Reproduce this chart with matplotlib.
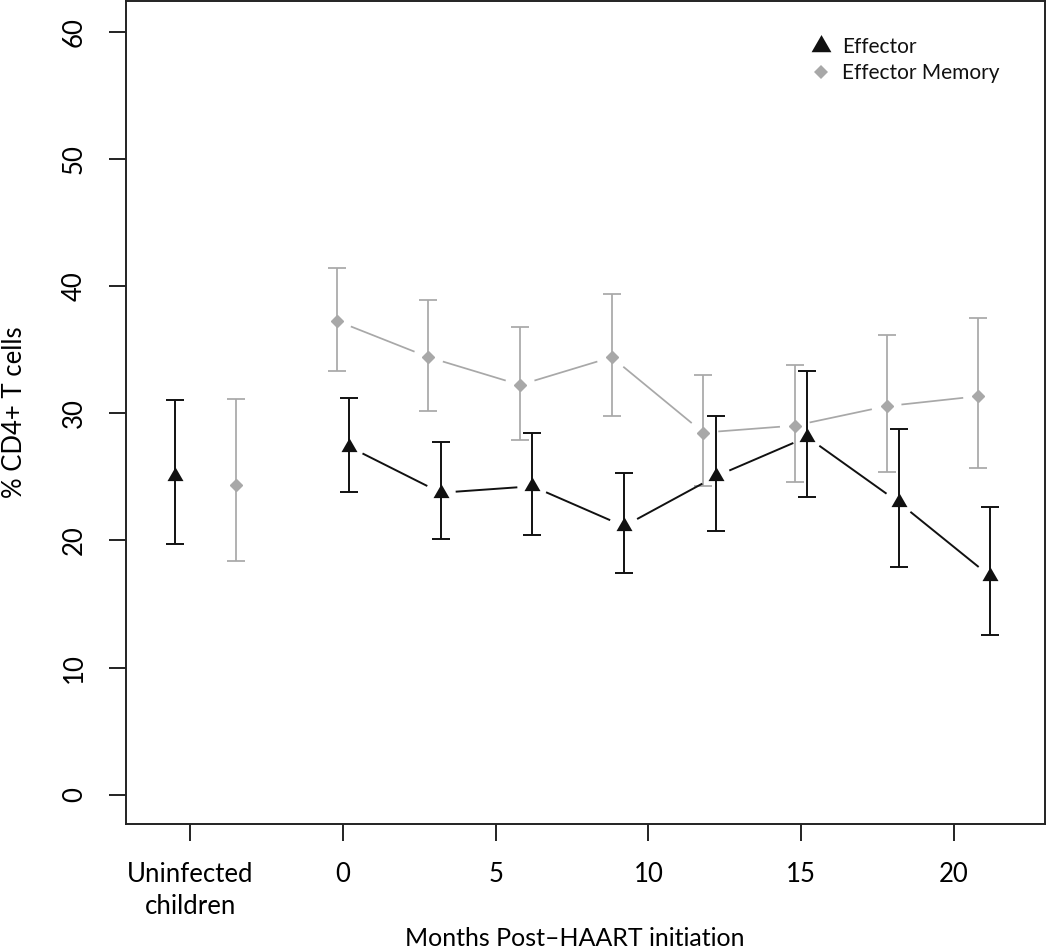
import numpy as np
import matplotlib
matplotlib.use("Agg")
import matplotlib.pyplot as plt
from matplotlib.path import Path

plt.rcParams['font.family'] = ['Lato', 'DejaVu Sans']

# ---- data ----
# x positions (months post-HAART; uninfected group placed at -5.5 / -3.5)
eff_x = [-5.5, 0.2, 3.2, 6.2, 9.2, 12.2, 15.2, 18.2, 21.2]
mem_x = [-3.5, -0.2, 2.8, 5.8, 8.8, 11.8, 14.8, 17.8, 20.8]
eff_mean = [25.05, 27.37, 23.75, 24.26, 21.12, 25.03, 28.13, 22.99, 17.17]
eff_lo = [19.73, 23.84, 20.13, 20.42, 17.40, 20.78, 23.40, 17.90, 12.56]
eff_hi = [31.05, 31.23, 27.75, 28.48, 25.29, 29.80, 33.36, 28.77, 22.62]
mem_mean = [24.35, 37.26, 34.41, 32.23, 34.41, 28.48, 29.03, 30.56, 31.34]
mem_lo = [18.42, 33.33, 30.16, 27.91, 29.77, 24.29, 24.58, 25.39, 25.68]
mem_hi = [31.16, 41.43, 38.89, 36.79, 39.41, 33.02, 33.83, 36.16, 37.50]

xtick_pos = [-5, 0, 5, 10, 15, 20]
xtick_labels = ["Uninfected\nchildren", "0", "5", "10", "15", "20"]
ytick_pos = [0, 10, 20, 30, 40, 50, 60]
series_names = ["Effector", "Effector Memory"]
x_title = "Months Post\u2013HAART initiation"
y_title = "% CD4+ T cells"

EFF_C = "#111111"
MEM_C = "#a8a8a8"

W, H = 1050, 951
fig = plt.figure(figsize=(W / 100, H / 100), dpi=100)
ax = fig.add_axes([125.7 / W, 1 - 824 / H, (1045 - 125.7) / W, (824 - 1) / H])
ax.set_xlim(-7.116, 22.99)
ax.set_ylim(-2.3, 62.42)

tri = Path([(-1.0, -0.577), (1.0, -0.577), (0.0, 1.155), (-1.0, -0.577)],
           [Path.MOVETO, Path.LINETO, Path.LINETO, Path.CLOSEPOLY])


def gapped_line(xs, ys, color, lw, gap_px=15):
    pts = ax.transData.transform(np.column_stack([xs, ys]))
    inv = ax.transData.inverted()
    for p, q in zip(pts[:-1], pts[1:]):
        d = q - p
        L = np.hypot(*d)
        if L <= 2 * gap_px:
            continue
        u = d / L
        a = inv.transform(p + u * gap_px)
        b = inv.transform(q - u * gap_px)
        ax.plot([a[0], b[0]], [a[1], b[1]], color=color, lw=lw,
                solid_capstyle='butt', zorder=2)


def errbars(xs, lo, hi, color, lw):
    ax.errorbar(xs, [(l + h) / 2 for l, h in zip(lo, hi)],
                yerr=[[(h - l) / 2 for l, h in zip(lo, hi)],
                      [(h - l) / 2 for l, h in zip(lo, hi)]],
                fmt='none', ecolor=color, elinewidth=lw, capsize=6.3,
                capthick=lw, zorder=2)


errbars(mem_x, mem_lo, mem_hi, MEM_C, 1.25)
errbars(eff_x, eff_lo, eff_hi, EFF_C, 1.4)

gapped_line(mem_x[1:], mem_mean[1:], MEM_C, 1.25)
gapped_line(eff_x[1:], eff_mean[1:], EFF_C, 1.4)

ax.plot(mem_x, mem_mean, linestyle='none', marker='D', markersize=5.8,
        color=MEM_C, mec=MEM_C, zorder=3)
ax.plot(eff_x, eff_mean, linestyle='none', marker=tri, markersize=13.3,
        color=EFF_C, mec=EFF_C, mew=0, zorder=3)

# legend (manual, R style)
lx = (821 - 125.7) / (1045 - 125.7)
tx = (842 - 125.7) / (1045 - 125.7)
ax.plot([lx], [(824 - 46) / 823], transform=ax.transAxes, marker=tri,
        markersize=16.5, color=EFF_C, mew=0, linestyle='none', clip_on=False)
ax.plot([lx], [(824 - 72) / 823], transform=ax.transAxes, marker='D',
        markersize=6.8, color=MEM_C, mew=0, linestyle='none', clip_on=False)
ax.text(tx, (824 - 53.3) / 823, series_names[0], transform=ax.transAxes,
        fontsize=15, va='baseline', ha='left', color='#111111')
ax.text(tx, (824 - 79) / 823, series_names[1], transform=ax.transAxes,
        fontsize=15, va='baseline', ha='left', color='#111111')

# axes styling
for s in ax.spines.values():
    s.set_linewidth(1.4)
    s.set_color('#222222')
ax.set_xticks(xtick_pos)
ax.set_xticklabels(xtick_labels, fontsize=18.5, linespacing=1.35)
ax.set_yticks(ytick_pos)
ax.set_yticklabels([str(v) for v in ytick_pos], fontsize=18.5, rotation=90,
                   va='center')
ax.tick_params(axis='both', direction='out', length=12, width=1.4,
               color='#222222')
ax.tick_params(axis='x', pad=15)
ax.tick_params(axis='y', pad=16)

# axis titles placed like R's mtext
fig.text(575 / W, 1 - 946 / H, x_title, fontsize=18, ha='center',
         va='baseline')
fig.text(22 / W, 1 - 412.5 / H, y_title, fontsize=18.5, ha='center',
         va='baseline', rotation=90, rotation_mode='anchor')

fig.savefig("out.png", dpi=100)
